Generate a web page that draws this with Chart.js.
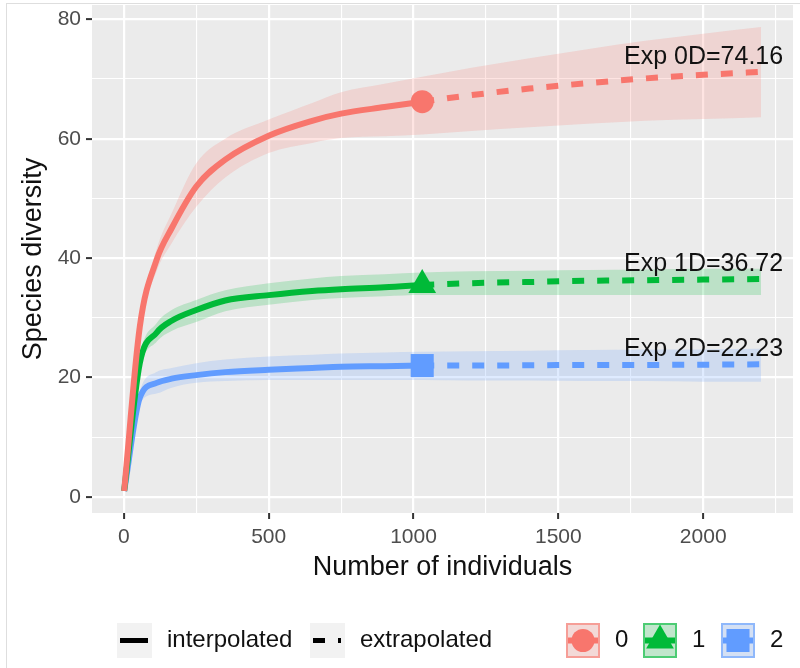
<!DOCTYPE html>
<html>
<head>
<meta charset="utf-8">
<title>Species diversity</title>
<script src="https://cdn.jsdelivr.net/npm/chart.js@4.4.0/dist/chart.umd.min.js"></script>
<style>
    html, body { margin: 0; padding: 0; background: #ffffff; }
    #wrap { position: relative; width: 800px; height: 668px; overflow: hidden; }
    #frame { position: absolute; left: 6px; top: 3px; width: 820px; height: 700px;
             border-left: 1px solid #dedede; border-top: 1px solid #dedede; pointer-events: none; }
</style>
</head>
<body>
<div id="wrap">
    <canvas id="chart" width="800" height="668"></canvas>
    <div id="frame"></div>
</div>
<script>
// Data -----------------------------------------------------------------------
var xInterp = [1, 55, 113, 165, 250, 350, 500, 650, 750, 900, 1030];
var xExtrap = [1030, 1200, 1400, 1600, 1800, 2000, 2200];

var q0Interp = [1, 28.5, 39.7, 45, 52, 56.5, 60.5, 63, 64.2, 65.3, 66.2];
var q0Extrap = [66.2, 67.3, 68.4, 69.3, 70.1, 70.7, 71.2];
var q0Upper = [1, 29.5, 41.5, 47.5, 55.9, 60, 63.2, 66, 67.8, 69.2, 70.4, 71.9, 73.5, 75, 76.4, 77.6, 78.7];
var q0Lower = [1, 27.5, 37.8, 42.5, 48.6, 53.5, 57.6, 59.3, 60.1, 60.4, 60.7, 61.3, 61.9, 62.5, 63, 63.3, 63.6];

var q1Interp = [1, 22.4, 27.5, 29.5, 31.3, 32.9, 33.8, 34.5, 34.8, 35.1, 35.5];
var q1Extrap = [35.5, 35.8, 36, 36.2, 36.3, 36.4, 36.5];
var q1Upper = [1, 23.5, 29.1, 31.3, 33, 34.6, 35.8, 36.6, 37, 37.3, 37.6, 37.8, 37.9, 38, 38.1, 38.2, 38.2];
var q1Lower = [1, 21.2, 26, 27.8, 29.3, 31.1, 32.2, 33, 33.3, 33.6, 33.8, 33.8, 33.8, 33.8, 33.8, 33.8, 33.8];

var q2Interp = [1, 16.6, 19.1, 19.8, 20.4, 20.9, 21.3, 21.6, 21.8, 21.9, 22.0];
var q2Extrap = [22.0, 22.0, 22.05, 22.1, 22.1, 22.15, 22.2];
var q2Upper = [1, 17.6, 20.9, 21.6, 22.4, 23, 23.5, 23.8, 24, 24.2, 24.3, 24.4, 24.5, 24.6, 24.7, 24.7, 24.8];
var q2Lower = [1, 15.6, 17.3, 18.3, 19.1, 19.4, 19.6, 19.6, 19.6, 19.6, 19.6, 19.5, 19.5, 19.4, 19.4, 19.3, 19.3];

var orderLabels = ['0', '1', '2'];
var expLabels = ['Exp 0D=74.16', 'Exp 1D=36.72', 'Exp 2D=22.23'];
var lineTypeLabels = ['interpolated', 'extrapolated'];

var xTickLabels = [0, 500, 1000, 1500, 2000];
var xMinorTicks = [250, 750, 1250, 1750, 2250];
var yTickLabels = [0, 20, 40, 60, 80];
var yMinorTicks = [10, 30, 50, 70];

// Style ----------------------------------------------------------------------
var fontFamily = '"Liberation Sans", Arial, sans-serif';
var colors = Array('#F8766D', '#00BA38', '#619CFF');
var ribbonColors = Array('rgba(248,118,109,0.2)', 'rgba(0,186,56,0.2)', 'rgba(97,156,255,0.2)');
var borderColors = Array('rgba(248,118,109,0.6)', 'rgba(0,186,56,0.6)', 'rgba(97,156,255,0.6)');
var markerStyles = Array('circle', 'triangle', 'rect');
var markerRadius = Array(11.5, 16, 16.3);

var xRibbon = xInterp.concat(xExtrap.slice(1));
var interp = [q0Interp, q1Interp, q2Interp];
var extrap = [q0Extrap, q1Extrap, q2Extrap];
var upper = [q0Upper, q1Upper, q2Upper];
var lower = [q0Lower, q1Lower, q2Lower];

function pts(xs, ys) {
    return xs.map(function(x, i) { return {x: x, y: ys[i]}; });
}

// Datasets -------------------------------------------------------------------
var datasets = [];
for (var i = 0; i < 3; i++) {
    var lowIndex = datasets.length;
    datasets.push({
        data: pts(xRibbon, lower[i]),
        borderWidth: 0, pointRadius: 0, fill: false, order: 3,
        cubicInterpolationMode: 'monotone'
    });
    datasets.push({
        data: pts(xRibbon, upper[i]),
        borderWidth: 0, pointRadius: 0, order: 3,
        backgroundColor: ribbonColors[i],
        fill: {target: lowIndex},
        cubicInterpolationMode: 'monotone'
    });
}
for (var i = 0; i < 3; i++) {
    datasets.push({
        data: pts(xInterp, interp[i]),
        borderColor: colors[i], borderWidth: 6, pointRadius: 0, fill: false, order: 2,
        cubicInterpolationMode: 'monotone'
    });
    datasets.push({
        data: pts(xExtrap, extrap[i]),
        borderColor: colors[i], borderWidth: 6, borderDash: [12, 13], pointRadius: 0, fill: false, order: 2,
        cubicInterpolationMode: 'monotone'
    });
    datasets.push({
        data: [{x: xInterp[xInterp.length - 1], y: interp[i][interp[i].length - 1]}],
        showLine: false, order: 1,
        pointStyle: markerStyles[i], pointRadius: markerRadius[i],
        pointBackgroundColor: colors[i], pointBorderWidth: 0
    });
}

// Plugins --------------------------------------------------------------------
var panelPlugin = {
    id: 'panel',
    beforeDraw: function(chart) {
        var a = chart.chartArea;
        var ctx = chart.ctx;
        ctx.save();
        ctx.fillStyle = '#EBEBEB';
        ctx.fillRect(a.left, a.top, a.right - a.left, a.bottom - a.top);
        ctx.restore();
    }
};

var labelPlugin = {
    id: 'expLabels',
    afterDatasetsDraw: function(chart) {
        var ctx = chart.ctx;
        var xs = chart.scales.x, ys = chart.scales.y;
        ctx.save();
        ctx.font = '25px ' + fontFamily;
        ctx.fillStyle = '#111111';
        ctx.textAlign = 'right';
        ctx.textBaseline = 'middle';
        for (var i = 0; i < 3; i++) {
            var last = extrap[i][extrap[i].length - 1];
            ctx.fillText(expLabels[i], xs.getPixelForValue(xExtrap[xExtrap.length - 1]) + 22, ys.getPixelForValue(last) - 15);
        }
        ctx.restore();
    }
};

function drawMarker(ctx, style, r, x, y) {
    ctx.beginPath();
    if (style === 'circle') {
        ctx.arc(x, y, r, 0, Math.PI * 2);
    } else if (style === 'triangle') {
        for (var k = 0; k < 3; k++) {
            var a = k * 2 * Math.PI / 3;
            if (k === 0) ctx.moveTo(x + Math.sin(a) * r, y - Math.cos(a) * r);
            else ctx.lineTo(x + Math.sin(a) * r, y - Math.cos(a) * r);
        }
        ctx.closePath();
    } else {
        var s = r * Math.SQRT1_2;
        ctx.rect(x - s, y - s, 2 * s, 2 * s);
    }
    ctx.fill();
}

var legendPlugin = {
    id: 'bottomLegend',
    afterDraw: function(chart) {
        var ctx = chart.ctx;
        var top = 623, size = 35, cy = top + size / 2;
        ctx.save();
        ctx.font = '24px ' + fontFamily;
        ctx.textBaseline = 'middle';
        ctx.textAlign = 'left';

        // line types
        var lineKeys = [117, 310];
        for (var i = 0; i < 2; i++) {
            var kx = lineKeys[i];
            ctx.fillStyle = '#F2F2F2';
            ctx.fillRect(kx, top, size, size);
            ctx.strokeStyle = '#000000';
            ctx.lineWidth = 5;
            ctx.setLineDash(i === 0 ? [] : [12, 13]);
            ctx.beginPath();
            ctx.moveTo(kx + 3, cy);
            ctx.lineTo(kx + 31, cy);
            ctx.stroke();
            ctx.setLineDash([]);
            ctx.fillStyle = '#111111';
            ctx.fillText(lineTypeLabels[i], kx + size + 15, cy);
        }

        // orders
        var orderKeys = [566, 643, 721];
        for (var i = 0; i < 3; i++) {
            var kx = orderKeys[i];
            ctx.fillStyle = '#F2F2F2';
            ctx.fillRect(kx, top, size - 1, size);
            ctx.fillStyle = ribbonColors[i];
            ctx.fillRect(kx, top, size - 1, size);
            ctx.strokeStyle = borderColors[i];
            ctx.lineWidth = 2;
            ctx.strokeRect(kx + 1, top + 1, size - 3, size - 2);
            ctx.strokeStyle = colors[i];
            ctx.lineWidth = 6;
            ctx.beginPath();
            ctx.moveTo(kx + 2, cy);
            ctx.lineTo(kx + size - 3, cy);
            ctx.stroke();
            ctx.fillStyle = colors[i];
            drawMarker(ctx, markerStyles[i], markerRadius[i], kx + (size - 1) / 2, cy);
            ctx.fillStyle = '#111111';
            ctx.fillText(orderLabels[i], kx + size + 14, cy);
        }
        ctx.restore();
    }
};

// Chart ----------------------------------------------------------------------
function tickList(major, minor) {
    return major.concat(minor).sort(function(a, b) { return a - b; }).map(function(v) { return {value: v}; });
}

const ctx = document.getElementById('chart').getContext('2d');
const chart = new Chart(ctx, {
    type: 'line',
    data: { datasets: datasets },
    plugins: [panelPlugin, labelPlugin, legendPlugin],
    options: {
        responsive: false,
        animation: false,
        layout: { autoPadding: false, padding: { left: 0, top: 5, right: 7, bottom: 0 } },
        plugins: {
            legend: { display: false },
            tooltip: { enabled: false }
        },
        scales: {
            x: {
                type: 'linear',
                min: -110,
                max: 2310,
                afterBuildTicks: function(axis) { axis.ticks = tickList(xTickLabels, xMinorTicks); },
                afterFit: function(axis) {
                    axis.height = 155;
                    axis.paddingLeft = 0;
                    axis.paddingRight = 0;
                },
                border: { display: false },
                grid: {
                    color: '#FFFFFF',
                    lineWidth: function(c) { return xTickLabels.indexOf(c.tick.value) >= 0 ? 2.2 : 1.1; },
                    tickColor: function(c) { return xTickLabels.indexOf(c.tick.value) >= 0 ? '#333333' : 'rgba(0,0,0,0)'; },
                    tickLength: 6,
                    tickWidth: 2
                },
                ticks: {
                    autoSkip: false,
                    maxRotation: 0,
                    minRotation: 0,
                    padding: 6,
                    color: '#4D4D4D',
                    font: { family: fontFamily, size: 21 },
                    callback: function(v) { return xTickLabels.indexOf(v) >= 0 ? String(v) : ''; }
                },
                title: {
                    display: true,
                    text: 'Number of individuals',
                    color: '#111111',
                    font: { family: fontFamily, size: 27 },
                    padding: { top: 0, bottom: 84 }
                }
            },
            y: {
                type: 'linear',
                min: -2.7,
                max: 82.4,
                afterBuildTicks: function(axis) { axis.ticks = tickList(yTickLabels, yMinorTicks); },
                afterFit: function(axis) {
                    axis.width = 92;
                    axis.paddingTop = 0;
                    axis.paddingBottom = 0;
                },
                border: { display: false },
                grid: {
                    color: '#FFFFFF',
                    lineWidth: function(c) { return yTickLabels.indexOf(c.tick.value) >= 0 ? 2.2 : 1.1; },
                    tickColor: function(c) { return yTickLabels.indexOf(c.tick.value) >= 0 ? '#333333' : 'rgba(0,0,0,0)'; },
                    tickLength: 6,
                    tickWidth: 2
                },
                ticks: {
                    autoSkip: false,
                    padding: 5,
                    color: '#4D4D4D',
                    font: { family: fontFamily, size: 21 },
                    callback: function(v) { return yTickLabels.indexOf(v) >= 0 ? String(v) : ''; }
                },
                title: {
                    display: true,
                    text: 'Species diversity',
                    color: '#111111',
                    font: { family: fontFamily, size: 27 },
                    padding: { top: 17, bottom: 0 }
                }
            }
        }
    }
});
</script>
</body>
</html>
